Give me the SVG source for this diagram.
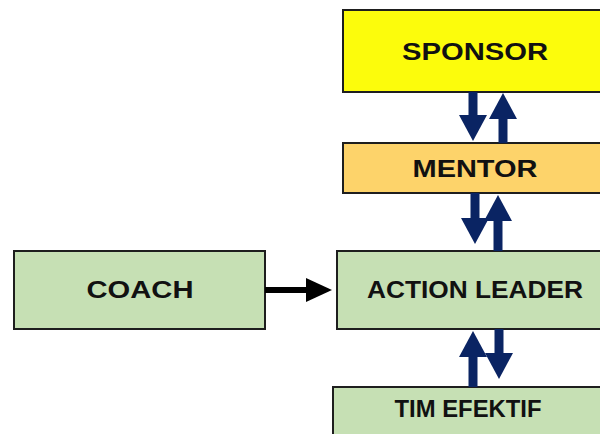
<svg xmlns="http://www.w3.org/2000/svg" width="600" height="434" viewBox="0 0 600 434">
  <style>
    .box { stroke: #1e1e1e; stroke-width: 2; }
    .lbl { font-family: "Liberation Sans", Arial, sans-serif; font-weight: bold; font-size: 23px; fill: #111; text-anchor: middle; }
    .nav { stroke: #0a2463; stroke-width: 9; fill: none; }
    .blk { stroke: #000; stroke-width: 6; fill: none; }
  </style>
  <defs>
    <marker id="hn" markerUnits="userSpaceOnUse" markerWidth="26" markerHeight="28" refX="0" refY="14" orient="auto" viewBox="0 0 26 28">
      <path d="M0,0 L26,14 L0,28 Z" fill="#0a2463"/>
    </marker>
    <marker id="hb" markerUnits="userSpaceOnUse" markerWidth="26" markerHeight="24" refX="0" refY="12" orient="auto" viewBox="0 0 26 24">
      <path d="M0,0 L26,12 L0,24 Z" fill="#000"/>
    </marker>
  </defs>
  <rect width="600" height="434" fill="#fff"/>
  <g id="sponsor">
    <rect class="box" x="343" y="10" width="270" height="82" fill="#fcfc0c"/>
    <text class="lbl" x="475" y="60" textLength="146" lengthAdjust="spacingAndGlyphs">SPONSOR</text>
  </g>
  <g id="mentor">
    <rect class="box" x="343" y="143" width="270" height="50" fill="#fdd36a"/>
    <text class="lbl" x="475" y="177" textLength="125" lengthAdjust="spacingAndGlyphs">MENTOR</text>
  </g>
  <g id="coach">
    <rect class="box" x="14" y="251" width="251" height="78" fill="#c6e0b4"/>
    <text class="lbl" x="140" y="298" textLength="107" lengthAdjust="spacingAndGlyphs">COACH</text>
  </g>
  <g id="action-leader">
    <rect class="box" x="337" y="251" width="276" height="78" fill="#c6e0b4"/>
    <text class="lbl" x="475" y="298" font-size="21" textLength="216" lengthAdjust="spacingAndGlyphs">ACTION LEADER</text>
  </g>
  <g id="tim-efektif">
    <rect class="box" x="333" y="387" width="280" height="60" fill="#c6e0b4"/>
    <text class="lbl" x="468" y="417" textLength="147" lengthAdjust="spacingAndGlyphs">TIM EFEKTIF</text>
  </g>
  <g id="connectors">
    <line class="nav" x1="473" y1="92" x2="473" y2="115" marker-end="url(#hn)"/>
    <line class="nav" x1="503" y1="143" x2="503" y2="119" marker-end="url(#hn)"/>
    <line class="nav" x1="475" y1="193" x2="475" y2="218" marker-end="url(#hn)"/>
    <line class="nav" x1="498" y1="251" x2="498" y2="221" marker-end="url(#hn)"/>
    <line class="nav" x1="473" y1="387" x2="473" y2="357" marker-end="url(#hn)"/>
    <line class="nav" x1="499" y1="329" x2="499" y2="353" marker-end="url(#hn)"/>
    <line class="blk" x1="265" y1="290" x2="306" y2="290" marker-end="url(#hb)"/>
  </g>
</svg>
